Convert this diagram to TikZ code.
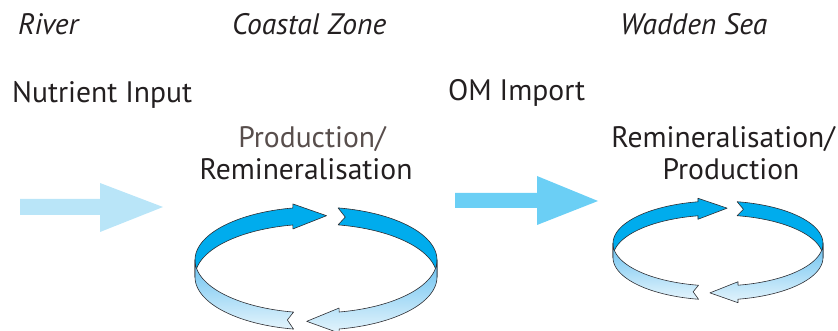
\documentclass[tikz,border=0pt]{standalone}
\usepackage{fontspec}
\setmainfont{PT Sans}
\definecolor{txt}{RGB}{35,31,32}
\definecolor{txtb}{RGB}{88,78,76}
\definecolor{riverblue}{RGB}{185,229,248}
\definecolor{omblue}{RGB}{107,207,245}
\definecolor{ringtop}{RGB}{0,172,237}
\definecolor{ringlo1}{RGB}{105,193,240}
\definecolor{ringlo2}{RGB}{228,244,252}
\definecolor{ringline}{RGB}{45,45,50}
\tikzset{
  lbl/.style={anchor=base west, inner sep=0pt, text=txt, font=\fontsize{29.6}{33}\selectfont},
  ttl/.style={lbl, font=\fontsize{29.6}{33}\selectfont\itshape},
  backpiece/.style={fill=ringtop, draw=ringline, line width=0.6pt, line join=round},
  frontpiece/.style={top color=ringlo1, bottom color=ringlo2, draw=ringline, line width=0.6pt, line join=round}
}
% #1 cx, #2 cy, #3 rx, #4 ry, #5 h, #6 barb
\newcommand{\ringcycle}[6]{%
  % top-left arrow (back)
  \draw[backpiece] plot[domain=180:101,samples=40] ({#1+#3*cos(\x)},{#2-#4*sin(\x)})
    -- ({#1+#3*cos(101)},{#2-#4*sin(101)-#6})
    -- ({#1+#3*cos(85)},{#2-#4*sin(85)+#5/2})
    -- ({#1+#3*cos(101)},{#2-#4*sin(101)+#5+#6})
    -- plot[domain=101:180,samples=40] ({#1+#3*cos(\x)},{#2-#4*sin(\x)+#5}) -- cycle;
  % top-right arrow (back)
  \draw[backpiece] plot[domain=79.5:0,samples=40] ({#1+#3*cos(\x)},{#2-#4*sin(\x)})
    -- plot[domain=0:79.5,samples=40] ({#1+#3*cos(\x)},{#2-#4*sin(\x)+#5})
    -- ({#1+#3*cos(76)},{#2-#4*sin(76)+#5/2}) -- cycle;
  % bottom-right arrow (front)
  \draw[frontpiece] plot[domain=360:281,samples=40] ({#1+#3*cos(\x)},{#2-#4*sin(\x)})
    -- ({#1+#3*cos(281)},{#2-#4*sin(281)-#6})
    -- ({#1+#3*cos(265.6)},{#2-#4*sin(265.6)+#5/2})
    -- ({#1+#3*cos(281)},{#2-#4*sin(281)+#5+#6})
    -- plot[domain=281:360,samples=40] ({#1+#3*cos(\x)},{#2-#4*sin(\x)+#5}) -- cycle;
  % bottom-left arrow (front)
  \draw[frontpiece] plot[domain=259.3:180,samples=40] ({#1+#3*cos(\x)},{#2-#4*sin(\x)})
    -- plot[domain=180:259.3,samples=40] ({#1+#3*cos(\x)},{#2-#4*sin(\x)+#5})
    -- ({#1+#3*cos(256.3)},{#2-#4*sin(256.3)+#5/2}) -- cycle;
}
\begin{document}
\begin{tikzpicture}[x=1pt,y=-1pt]
\useasboundingbox (0,0) rectangle (838,331);
% titles
\node[ttl] (river) at (18,35) {River};
\node[ttl] (coastal) at (232,35) {Coastal Zone};
\node[ttl] (wadden) at (620,35) {Wadden Sea};
% labels
\node[lbl] (nutrient) at (12,103) {Nutrient Input};
\node[lbl] (omimport) at (448,101) {OM Import};
\node[lbl, text=txtb, anchor=base] (prod1) at (312,148) {Production/};
\node[lbl, anchor=base] (remin1) at (306,180) {Remineralisation};
\node[lbl, anchor=base east] (remin2) at (835,148) {Remineralisation/};
\node[lbl, anchor=base] (prod2) at (731,180) {Production};
% straight arrows
\fill[riverblue] (20,199) -- (100,199) -- (100,183) -- (163,207) -- (100,232) -- (100,215) -- (20,215) -- cycle;
\fill[omblue] (455,193) -- (537,193) -- (537,176) -- (598,201) -- (537,225) -- (537,208) -- (455,208) -- cycle;
% cycles
\ringcycle{316}{260}{121}{53}{17}{4}
\ringcycle{718}{243.5}{105}{42.5}{14}{3.5}
\end{tikzpicture}
\end{document}
